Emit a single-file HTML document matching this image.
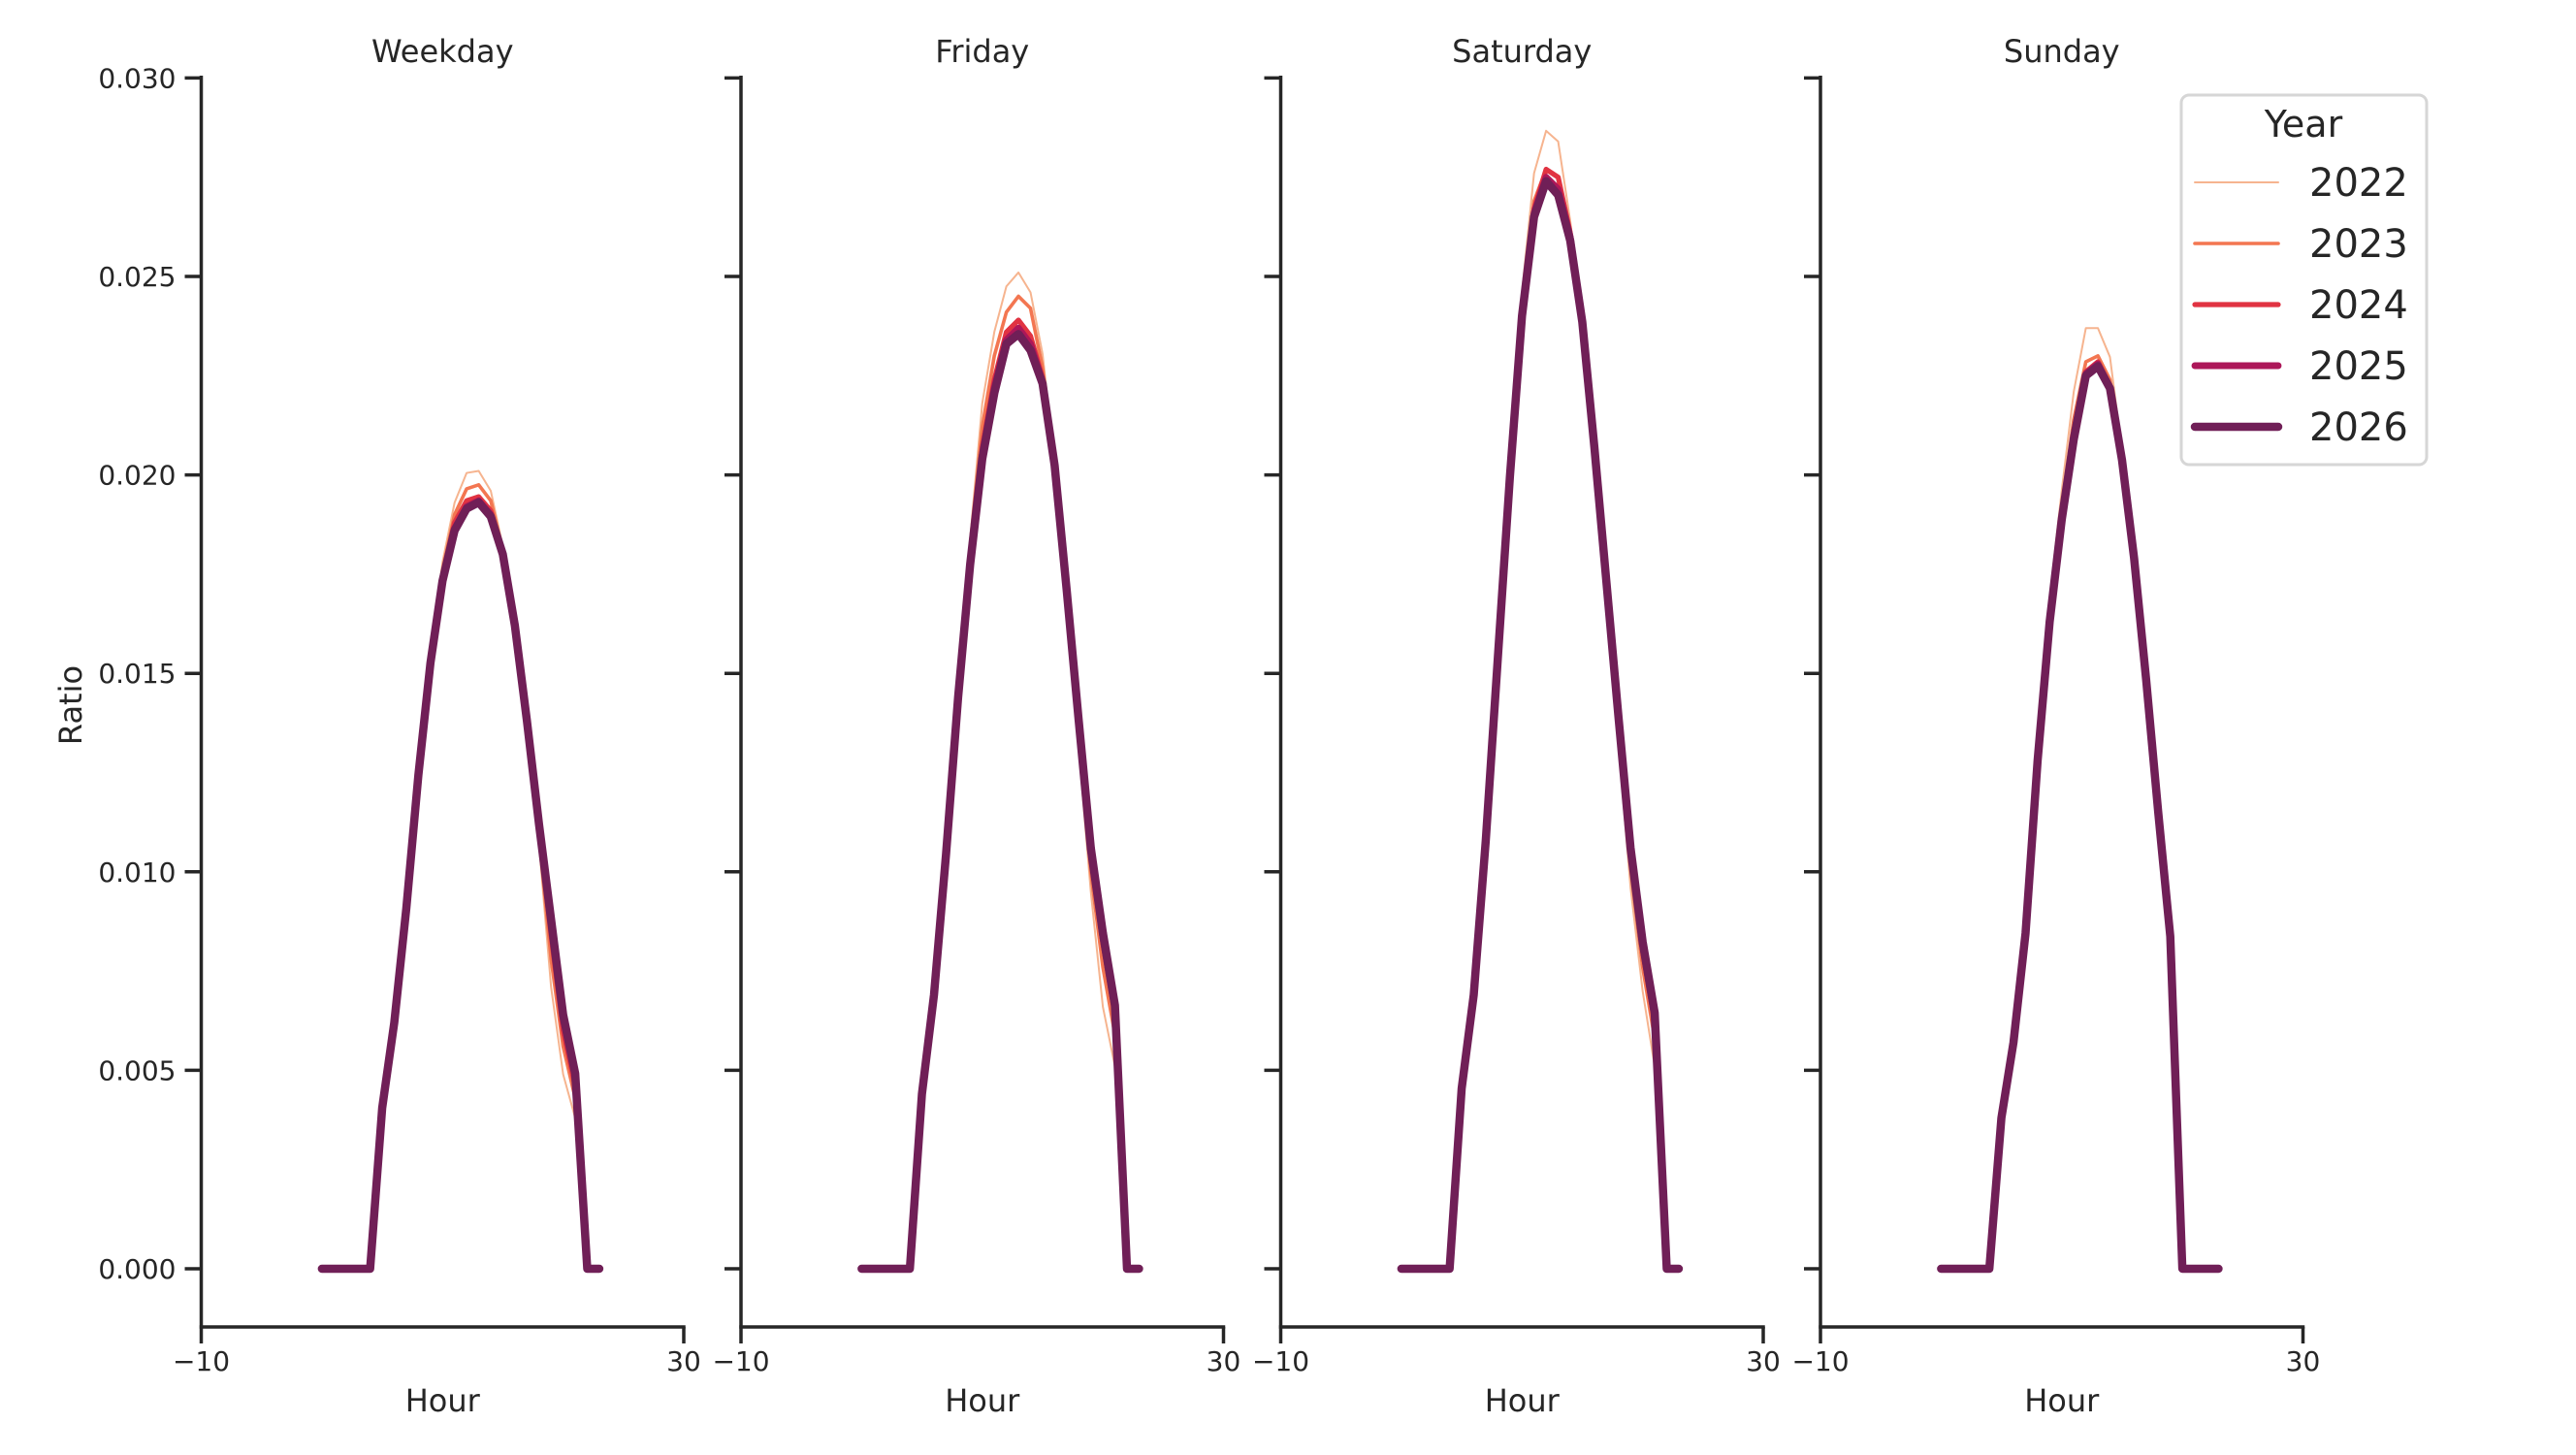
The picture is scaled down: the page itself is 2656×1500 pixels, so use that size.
<!DOCTYPE html>
<html><head><meta charset="utf-8"><style>
html,body{margin:0;padding:0;background:#fff;}
svg{display:block;font-family:"DejaVu Sans","Liberation Sans",sans-serif;}
</style></head><body>
<svg id="chart" width="2656" height="1500" viewBox="0 0 2656 1500" xmlns="http://www.w3.org/2000/svg">
<text x="0" y="0" transform="translate(84,727) rotate(-90)" text-anchor="middle" font-size="32" fill="#262626">Ratio</text>
<g id="panels"></g>
<g>
<rect x="2249" y="98" width="253" height="381" rx="8" fill="#fff" stroke="#d6d6d6" stroke-width="3"/>
<text x="2375" y="141" text-anchor="middle" font-size="38" fill="#262626">Year</text>
<g id="legend-items"></g>
</g>
</svg>
<script>
const hours = [0,1,2,3,4,5,6,7,8,9,10,11,12,13,14,15,16,17,18,19,20,21,22,23];
const years = ["2022","2023","2024","2025","2026"];
const panelTitles = ["Weekday","Friday","Saturday","Sunday"];
const yTickValues = [0,0.005,0.010,0.015,0.020,0.025,0.030];
const yTickLabels = ["0.000","0.005","0.010","0.015","0.020","0.025","0.030"];
const xTickValues = [-10,30];
const xTickLabels = ["\u221210","30"];
// values in units of 0.001
const weekday2022 = [0,0,0,0,0,4.0,6.2,9.1,12.5,15.5,17.8,19.3,20.05,20.1,19.6,18.2,16.2,13.6,10.7,7.1,4.9,3.8,0,0];
const weekday2023 = [0,0,0,0,0,4.05,6.2,9.1,12.45,15.4,17.6,19.0,19.65,19.75,19.35,18.1,16.2,13.7,10.9,7.8,5.6,4.3,0,0];
const weekday2024 = [0,0,0,0,0,4.05,6.2,9.08,12.44,15.3,17.45,18.8,19.35,19.45,19.1,18.05,16.2,13.75,11.1,8.4,6.0,4.6,0,0];
const weekday2025 = [0,0,0,0,0,4.05,6.2,9.08,12.44,15.27,17.35,18.65,19.2,19.35,19.0,18.0,16.2,13.8,11.15,8.7,6.3,4.85,0,0];
const weekday2026 = [0,0,0,0,0,4.05,6.2,9.08,12.44,15.26,17.33,18.6,19.15,19.31,18.95,18.0,16.2,13.8,11.2,8.8,6.4,4.92,0,0];
const friday2022 = [0,0,0,0,0,4.4,6.9,10.5,14.6,18.4,21.8,23.6,24.75,25.1,24.6,23.05,20.3,16.8,13.1,9.5,6.6,5.1,0,0];
const friday2023 = [0,0,0,0,0,4.4,6.9,10.5,14.5,18.2,21.2,23.0,24.1,24.5,24.2,22.7,20.3,16.9,13.4,10.0,7.6,5.9,0,0];
const friday2024 = [0,0,0,0,0,4.4,6.9,10.45,14.45,17.9,20.7,22.4,23.6,23.9,23.5,22.45,20.3,17.0,13.7,10.4,8.2,6.4,0,0];
const friday2025 = [0,0,0,0,0,4.4,6.9,10.45,14.4,17.8,20.5,22.2,23.4,23.7,23.3,22.35,20.25,17.05,13.75,10.5,8.35,6.55,0,0];
const friday2026 = [0,0,0,0,0,4.4,6.9,10.45,14.4,17.75,20.4,22.06,23.3,23.55,23.14,22.3,20.24,17.1,13.8,10.6,8.46,6.64,0,0];
const saturday2022 = [0,0,0,0,0,4.5,6.9,10.8,15.5,20.3,24.6,27.6,28.67,28.4,26.4,23.9,20.5,16.9,13.2,9.6,7.0,5.1,0,0];
const saturday2023 = [0,0,0,0,0,4.5,6.9,10.8,15.45,20.1,24.3,26.9,27.7,27.5,26.2,23.9,20.6,17.1,13.6,10.1,7.6,5.8,0,0];
const saturday2024 = [0,0,0,0,0,4.54,6.9,10.8,15.4,20.0,24.1,26.7,27.7,27.5,26.1,23.9,20.65,17.2,13.8,10.4,8.0,6.2,0,0];
const saturday2025 = [0,0,0,0,0,4.54,6.9,10.8,15.4,19.98,24.05,26.6,27.5,27.2,26.0,23.85,20.7,17.25,13.85,10.5,8.15,6.35,0,0];
const saturday2026 = [0,0,0,0,0,4.54,6.9,10.8,15.4,19.96,24.0,26.5,27.4,27.05,25.9,23.85,20.7,17.3,13.9,10.6,8.24,6.45,0,0];
const sunday2022 = [0,0,0,0,0,3.8,5.7,8.5,13.0,16.9,19.6,22.1,23.7,23.7,22.97,20.6,17.8,14.6,11.1,7.9,0,0,0,0];
const sunday2023 = [0,0,0,0,0,3.8,5.7,8.45,12.9,16.6,19.2,21.4,22.85,23.0,22.4,20.5,17.9,14.8,11.4,8.2,0,0,0,0];
const sunday2024 = [0,0,0,0,0,3.8,5.7,8.45,12.85,16.4,19.0,21.1,22.6,22.85,22.25,20.4,17.9,14.82,11.45,8.3,0,0,0,0];
const sunday2025 = [0,0,0,0,0,3.8,5.7,8.45,12.8,16.35,18.9,21.0,22.55,22.8,22.2,20.38,17.9,14.84,11.48,8.35,0,0,0,0];
const sunday2026 = [0,0,0,0,0,3.8,5.7,8.45,12.8,16.3,18.87,20.9,22.5,22.74,22.18,20.37,17.9,14.84,11.5,8.37,0,0,0,0];

const seriesByPanel = [
  [weekday2022,weekday2023,weekday2024,weekday2025,weekday2026],
  [friday2022,friday2023,friday2024,friday2025,friday2026],
  [saturday2022,saturday2023,saturday2024,saturday2025,saturday2026],
  [sunday2022,sunday2023,sunday2024,sunday2025,sunday2026]
];
const colors = ["#F6B48F","#F37651","#E13342","#AD1759","#701F57"];
const widths = [2,3.6,5.2,6.9,8.5];

const NS = "http://www.w3.org/2000/svg";
const panelLeft = [207.5,764,1320.5,1877];
const panelW = 497.5;
const y0px = 1308, y30px = 80.4;
const spineY = 1368, spineTop = 78;
function yScale(v){ return y0px + (v-0)*(y30px-y0px)/0.030; }
function xScale(p,h){ return panelLeft[p] + (h+10)*panelW/40; }
function mk(tag, attrs, parent){ const e=document.createElementNS(NS,tag); for(const k in attrs) e.setAttribute(k,attrs[k]); parent.appendChild(e); return e; }

const panels = document.getElementById("panels");
for(let p=0;p<4;p++){
  const g = mk("g",{},panels);
  
  
  const L = panelLeft[p];
  const t = mk("text",{x:L+panelW/2,y:64,"text-anchor":"middle","font-size":32,fill:"#262626"},g);
  t.textContent = panelTitles[p];
  
  
  const ys = mk("line",{x1:L,x2:L,y1:spineTop,y2:spineY,stroke:"#262626","stroke-width":3.5},g);
  
  
  const xs = mk("line",{x1:L-1.75,x2:L+panelW+1.75,y1:spineY,y2:spineY,stroke:"#262626","stroke-width":3.5},g);
  
  
  yTickValues.forEach((v,i)=>{
    const yy = yScale(v);
    const tk = mk("line",{x1:L-17,x2:L,y1:yy,y2:yy,stroke:"#262626","stroke-width":3.5},g);
    
    
    if(p===0){
      const lb = mk("text",{x:L-26,y:yy+10,"text-anchor":"end","font-size":28,fill:"#262626"},g);
      lb.textContent = yTickLabels[i];
      
      
    }
  });
  xTickValues.forEach((v,i)=>{
    const xx = xScale(p,v);
    const tk = mk("line",{x1:xx,x2:xx,y1:spineY,y2:spineY+17,stroke:"#262626","stroke-width":3.5},g);
    
    
    const lb = mk("text",{x:xx,y:1413,"text-anchor":"middle","font-size":28,fill:"#262626"},g);
    lb.textContent = xTickLabels[i];
    
    
  });
  const xt = mk("text",{x:L+panelW/2,y:1455,"text-anchor":"middle","font-size":32,fill:"#262626"},g);
  xt.textContent = "Hour";
  
  
  seriesByPanel[p].forEach((arr,s)=>{
    const pts = arr.map((v,i)=>xScale(p,hours[i]).toFixed(2)+","+yScale(v/1000).toFixed(2)).join(" ");
    const pl = mk("polyline",{points:pts,fill:"none",stroke:colors[s],"stroke-width":widths[s],"stroke-linecap":"round","stroke-linejoin":"round"},g);
    
    
  });
}
const li = document.getElementById("legend-items");
const legendY = [188,251,314,377,440];
years.forEach((yr,s)=>{
  const g = mk("g",{},li);
  
  
  mk("line",{x1:2263,x2:2349,y1:legendY[s],y2:legendY[s],stroke:colors[s],"stroke-width":widths[s],"stroke-linecap":"round"},g);
  const t = mk("text",{x:2381,y:legendY[s]+14,"font-size":40,fill:"#262626"},g);
  t.textContent = yr;
});
</script>
</body></html>
